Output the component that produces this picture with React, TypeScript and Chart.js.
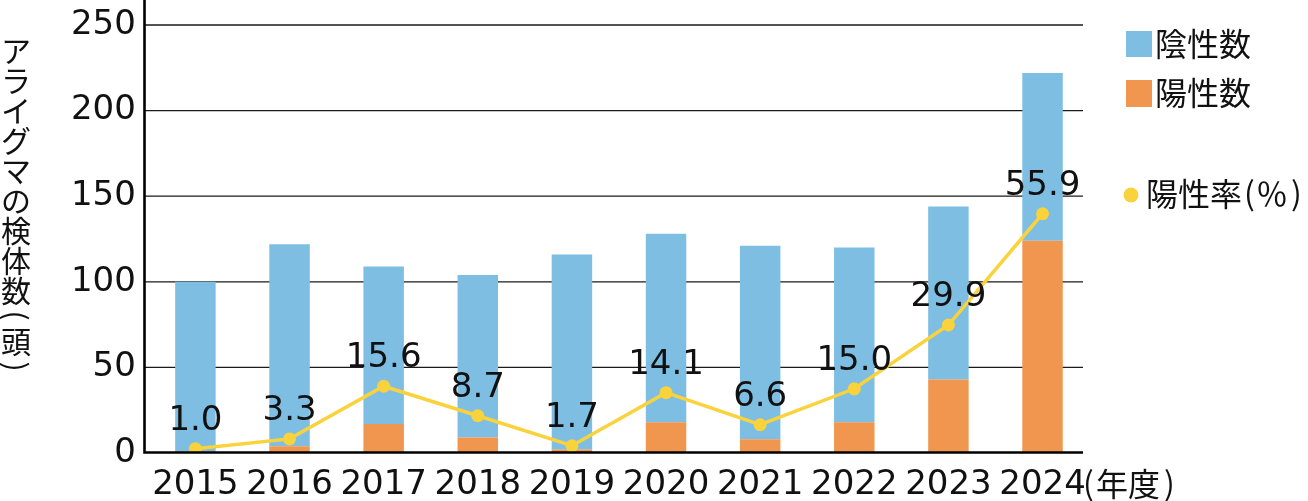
import React, { useEffect, useRef } from "react";
import { Chart, registerables } from "chart.js";

Chart.register(...registerables);

// ---------- data ----------
const years = ["2015", "2016", "2017", "2018", "2019", "2020", "2021", "2022", "2023", "2024"];
const negativeCounts = [99, 118, 92, 95, 114, 110, 113, 102, 101, 98];
const positiveCounts = [1, 4, 17, 9, 2, 18, 8, 18, 43, 124];
const positiveRates = [1.0, 3.3, 15.6, 8.7, 1.7, 14.1, 6.6, 15.0, 29.9, 55.9];
const countTicks = [0, 50, 100, 150, 200, 250];

const yTitle = "アライグマの検体数（頭）";
const xUnitOpen = "(";
const xUnitText = "年度";
const xUnitClose = ")";
const legendNegative = "陰性数";
const legendPositive = "陽性数";
const legendRate = "陽性率";

// ---------- style ----------
const W = 1308;
const H = 501;
const BLUE = "#7EBEE3";
const ORANGE = "#F1964F";
const YELLOW = "#FAD23C";
const INK = "#111111";
const NUM_FONT = "'DejaVu Sans'";
const JP_FONT = "'Noto Sans CJK JP'";
const Y_MAX = 264.6;
const RATE_AXIS_MAX = Y_MAX / 2.5; // 100 % ↔ 250 head

const decorPlugin = {
  id: "decor",
  beforeDatasetsDraw(chart: any) {
    const ctx = chart.ctx;
    const y = chart.scales.y;
    ctx.save();
    ctx.strokeStyle = "#1a1a1a";
    ctx.lineWidth = 1.3;
    countTicks.forEach((v) => {
      if (v === 0) return;
      const py = y.getPixelForValue(v);
      ctx.beginPath();
      ctx.moveTo(145, py);
      ctx.lineTo(1083, py);
      ctx.stroke();
    });
    ctx.restore();
  },
  afterDatasetsDraw(chart: any) {
    const ctx = chart.ctx;
    const y = chart.scales.y;
    const p0 = y.getPixelForValue(0);
    ctx.save();
    ctx.strokeStyle = "#000";
    ctx.lineWidth = 2.6;
    ctx.beginPath();
    ctx.moveTo(144.5, 0);
    ctx.lineTo(144.5, p0 + 0.5);
    ctx.moveTo(143.2, p0 - 0.5);
    ctx.lineTo(1083, p0 - 0.5);
    ctx.stroke();

    // rate labels
    const meta = chart.getDatasetMeta(0);
    ctx.fillStyle = INK;
    ctx.font = `34px ${NUM_FONT}`;
    ctx.textAlign = "center";
    ctx.textBaseline = "alphabetic";
    meta.data.forEach((pt: any, i: number) => {
      ctx.fillText(positiveRates[i].toFixed(1), pt.x, pt.y - 19);
    });
    ctx.restore();
  },
  afterDraw(chart: any) {
    const ctx = chart.ctx;
    ctx.save();
    ctx.fillStyle = INK;

    // vertical y-axis title
    ctx.font = `30px ${JP_FONT}`;
    ctx.textAlign = "center";
    ctx.textBaseline = "middle";
    let yy = 35;
    for (const ch of Array.from(yTitle)) {
      const isParen = ch === "（" || ch === "）";
      const h = isParen ? 21 : 30;
      const cy = yy + h / 2;
      if (isParen) {
        ctx.save();
        ctx.translate(16, cy);
        ctx.rotate(Math.PI / 2);
        ctx.fillText(ch === "（" ? "(" : ")", 0, 0);
        ctx.restore();
      } else {
        ctx.fillText(ch, 16, cy + 1);
      }
      yy += h;
    }

    // x unit
    ctx.font = `32px ${JP_FONT}`;
    ctx.textAlign = "left";
    ctx.textBaseline = "middle";
    ctx.fillText(xUnitOpen, 1083, 483);
    ctx.fillText(xUnitText, 1096, 484);
    ctx.fillText(xUnitClose, 1164, 483);

    // legend
    ctx.fillStyle = BLUE;
    ctx.fillRect(1126, 31, 26, 26);
    ctx.fillStyle = ORANGE;
    ctx.fillRect(1126, 80, 26, 27);
    ctx.fillStyle = YELLOW;
    ctx.beginPath();
    ctx.arc(1131, 195, 7.5, 0, Math.PI * 2);
    ctx.fill();

    ctx.fillStyle = INK;
    ctx.font = `32px ${JP_FONT}`;
    ctx.fillText(legendNegative, 1155, 44);
    ctx.fillText(legendPositive, 1155, 93);
    ctx.fillText(legendRate, 1146, 194);
    ctx.fillText("(", 1244, 193);
    ctx.fillText("％", 1256, 194);
    ctx.fillText(")", 1291, 193);
    ctx.restore();
  },
};

export default function App() {
  const ref = useRef<HTMLCanvasElement | null>(null);

  useEffect(() => {
    if (!ref.current) return;
    const chart = new Chart(ref.current, {
      type: "bar",
      data: {
        labels: years,
        datasets: [
          {
            type: "line",
            label: "陽性率（%）",
            data: positiveRates,
            yAxisID: "y1",
            borderColor: YELLOW,
            backgroundColor: YELLOW,
            borderWidth: 3.5,
            pointRadius: 6.5,
            pointBorderWidth: 0,
            pointBackgroundColor: YELLOW,
            tension: 0,
            order: 0,
          } as any,
          {
            label: legendPositive,
            data: positiveCounts,
            backgroundColor: ORANGE,
            stack: "s",
            order: 1,
          },
          {
            label: legendNegative,
            data: negativeCounts,
            backgroundColor: BLUE,
            stack: "s",
            order: 1,
          },
        ],
      },
      options: {
        responsive: false,
        animation: false,
        devicePixelRatio: 1,
        layout: { autoPadding: false, padding: { left: 0, right: W - 1089.6, top: 0, bottom: 0 } },
        datasets: { bar: { barPercentage: 0.43, categoryPercentage: 1 } } as any,
        plugins: { legend: { display: false }, tooltip: { enabled: false } },
        scales: {
          x: {
            stacked: true,
            offset: true,
            grid: { display: false, drawTicks: false },
            border: { display: false },
            ticks: {
              color: INK,
              font: { family: NUM_FONT, size: 34 },
              padding: 12,
              maxRotation: 0,
              autoSkip: false,
            },
            afterFit(s: any) {
              s.height = H - 453;
              s.paddingLeft = 0;
              s.paddingRight = 0;
            },
          },
          y: {
            stacked: true,
            min: 0,
            max: Y_MAX,
            grid: { display: false, drawTicks: false },
            border: { display: false },
            ticks: {
              color: INK,
              font: { family: NUM_FONT, size: 34 },
              padding: 12.5,
              stepSize: 50,
            },
            afterBuildTicks(s: any) {
              s.ticks = countTicks.map((v) => ({ value: v }));
            },
            afterFit(s: any) {
              s.width = 148.35;
              s.paddingTop = 0;
              s.paddingBottom = 0;
            },
          },
          y1: {
            display: false,
            min: 0,
            max: RATE_AXIS_MAX,
          },
        },
      },
      plugins: [decorPlugin],
    });
    return () => chart.destroy();
  }, []);

  return (
    <div style={{ position: "absolute", left: 0, top: 0, width: W, height: H, background: "#fff" }}>
      <canvas ref={ref} width={W} height={H} style={{ display: "block", width: W, height: H }} />
    </div>
  );
}
